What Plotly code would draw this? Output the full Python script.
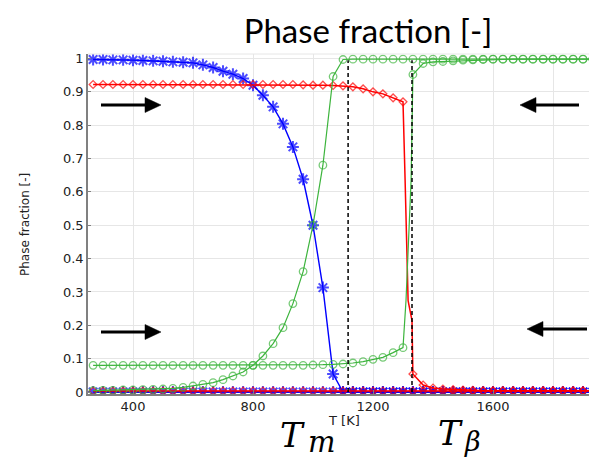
import plotly.graph_objects as go

# ---------------- data ----------------
T_GRID = [267, 300, 333, 367, 400, 433, 467, 500, 533, 567, 600, 633, 667, 700,
          733, 767, 800, 833, 867, 900, 933, 967, 1000, 1033, 1067, 1100, 1133,
          1167, 1200, 1233, 1267, 1300, 1333, 1367, 1400, 1433, 1467, 1500, 1533,
          1567, 1600, 1633, 1667, 1700, 1733, 1767, 1800, 1833, 1867, 1900, 1933]

# cooling: martensite (blue), beta (green), alpha (red)
COOL_MART = [0.997, 0.997, 0.996, 0.996, 0.995, 0.994, 0.993, 0.992, 0.990, 0.989,
             0.987, 0.981, 0.973, 0.962, 0.953, 0.940, 0.920, 0.890, 0.855, 0.804,
             0.735, 0.638, 0.500, 0.313, 0.054, 0.000, 0.000, 0.000, 0.000, 0.000,
             0.000, 0.000, 0.000, 0.000, 0.000, 0.000, 0.000, 0.000, 0.000, 0.000,
             0.000, 0.000, 0.000, 0.000, 0.000, 0.000, 0.000, 0.000, 0.000, 0.000,
             0.000]
COOL_BETA = [0.004, 0.005, 0.005, 0.006, 0.006, 0.007, 0.008, 0.009, 0.011, 0.014,
             0.018, 0.023, 0.028, 0.037, 0.048, 0.060, 0.080, 0.108, 0.145, 0.193,
             0.265, 0.361, 0.500, 0.680, 0.946, 0.997, 0.998, 0.998, 0.998, 0.998,
             0.998, 0.998, 0.998, 0.998, 0.998, 0.998, 0.998, 0.998, 0.998, 0.998,
             0.998, 0.998, 0.998, 0.998, 0.998, 0.998, 0.998, 0.998, 0.998, 0.998,
             0.998]
COOL_ALPHA = [0.003, 0.003, 0.003, 0.003, 0.003, 0.003, 0.003, 0.003, 0.003, 0.003,
              0.003, 0.003, 0.003, 0.003, 0.003, 0.003, 0.003, 0.003, 0.003, 0.003,
              0.003, 0.003, 0.003, 0.003, 0.003, 0.003, 0.003, 0.003, 0.003, 0.003,
              0.003, 0.003, 0.003, 0.003, 0.003, 0.003, 0.003, 0.003, 0.003, 0.003,
              0.003, 0.003, 0.003, 0.003, 0.003, 0.003, 0.003, 0.003, 0.003, 0.003,
              0.003]
# heating: martensite stays zero
HEAT_MART = [0.0, 0.0, 0.0, 0.0, 0.0, 0.0, 0.0, 0.0, 0.0, 0.0, 0.0, 0.0, 0.0, 0.0,
             0.0, 0.0, 0.0, 0.0, 0.0, 0.0, 0.0, 0.0, 0.0, 0.0, 0.0, 0.0, 0.0, 0.0,
             0.0, 0.0, 0.0, 0.0, 0.0, 0.0, 0.0, 0.0, 0.0, 0.0, 0.0, 0.0, 0.0, 0.0,
             0.0, 0.0, 0.0, 0.0, 0.0, 0.0, 0.0, 0.0, 0.0]

# heating alpha (red) including the unmarked points of the steep drop
T_HEAT_ALPHA = [267, 300, 333, 367, 400, 433, 467, 500, 533, 567, 600, 633, 667, 700,
                733, 767, 800, 833, 867, 900, 933, 967, 1000, 1033, 1067, 1100, 1133,
                1167, 1200, 1233, 1267, 1300, 1307, 1317, 1330, 1333, 1367, 1400, 1433,
                1467, 1500, 1533, 1567, 1600, 1633, 1667, 1700, 1733, 1767, 1800, 1833,
                1867, 1900, 1933]
HEAT_ALPHA = [0.922, 0.922, 0.922, 0.922, 0.922, 0.922, 0.922, 0.922, 0.922, 0.922,
              0.922, 0.922, 0.922, 0.922, 0.922, 0.922, 0.922, 0.922, 0.922, 0.922,
              0.922, 0.921, 0.920, 0.920, 0.919, 0.918, 0.915, 0.909, 0.900, 0.894,
              0.882, 0.870, 0.636, 0.274, 0.214, 0.054, 0.021, 0.012, 0.009, 0.007,
              0.006, 0.005, 0.004, 0.004, 0.004, 0.004, 0.004, 0.004, 0.004, 0.004,
              0.004, 0.004, 0.004, 0.004]
# heating beta (green) including the unmarked points of the steep rise
T_HEAT_BETA = [267, 300, 333, 367, 400, 433, 467, 500, 533, 567, 600, 633, 667, 700,
               733, 767, 800, 833, 867, 900, 933, 967, 1000, 1033, 1067, 1100, 1133,
               1167, 1200, 1233, 1267, 1300, 1310, 1327, 1333, 1367, 1400, 1433, 1467,
               1500, 1533, 1567, 1600, 1633, 1667, 1700, 1733, 1767, 1800, 1833, 1867,
               1900, 1933]
HEAT_BETA = [0.080, 0.080, 0.080, 0.080, 0.080, 0.080, 0.080, 0.080, 0.080, 0.080,
             0.080, 0.080, 0.080, 0.080, 0.080, 0.080, 0.080, 0.080, 0.080, 0.080,
             0.080, 0.080, 0.081, 0.082, 0.083, 0.084, 0.087, 0.091, 0.098, 0.104,
             0.118, 0.133, 0.274, 0.636, 0.952, 0.985, 0.990, 0.991, 0.993, 0.995,
             0.996, 0.997, 0.998, 0.998, 0.998, 0.998, 0.998, 0.998, 0.998, 0.998,
             0.998, 0.998, 0.998]
UNMARKED_T = [1307, 1317, 1330, 1310, 1327]   # points of the jumps drawn without a marker

T_M_LINE = 1117        # dashed marker of T_m
T_BETA_LINE = 1330     # dashed marker of T_beta
X_TICKS = [400, 800, 1200, 1600]
X_MINOR = [600, 1000, 1400, 1800]
Y_TICKS = [0, 0.1, 0.2, 0.3, 0.4, 0.5, 0.6, 0.7, 0.8, 0.9, 1]
Y_TICKTEXT = ['0', '0.1', '0.2', '0.3', '0.4', '0.5', '0.6', '0.7', '0.8', '0.9', '1']

# ---------------- styling ----------------
W, H = 589, 461
PL, PR, PT, PB = 88, 589, 54, 394   # plot area in pixels

def pxx(x):
    return (x - PL) / (PR - PL)

def pyy(y):
    return (PB - y) / (PB - PT)

BLUE = '#0000ff'
RED = '#ff0000'
GREEN = '#3cb43c'
GRID = '#e6e6e6'
TICKFONT = dict(family='DejaVu Sans', size=13, color='#222222')

fig = go.Figure()

def add(x, y, color, symbol, size, lw, mlw):
    sizes = [0 if t in UNMARKED_T else size for t in x]
    fig.add_trace(go.Scatter(
        x=x, y=y, mode='lines+markers',
        line=dict(color=color, width=lw),
        marker=dict(symbol=symbol, size=sizes, color=color,
                    line=dict(color=color, width=mlw)),
        showlegend=False, hoverinfo='skip'))

add(T_GRID, HEAT_MART, BLUE, 'asterisk-open', 10, 1.4, 2.0)
add(T_GRID, COOL_MART, BLUE, 'asterisk-open', 10, 1.4, 2.0)
add(T_GRID, COOL_ALPHA, RED, 'diamond-open', 6, 1.5, 1.3)
add(T_HEAT_ALPHA, HEAT_ALPHA, RED, 'diamond-open', 6, 1.5, 1.3)
add(T_GRID, COOL_BETA, GREEN, 'circle-open', 7.5, 1.2, 1.3)
add(T_HEAT_BETA, HEAT_BETA, GREEN, 'circle-open', 7.5, 1.2, 1.3)

shapes = [
    dict(type='line', xref='x', yref='y', x0=T_M_LINE, x1=T_M_LINE, y0=0, y1=0.995,
         line=dict(color='black', width=1.5, dash='4px,3px')),
    dict(type='line', xref='x', yref='y', x0=T_BETA_LINE, x1=T_BETA_LINE, y0=0, y1=0.995,
         line=dict(color='black', width=1.5, dash='4px,3px')),
    dict(type='line', xref='paper', yref='paper', x0=0, x1=1, y0=1, y1=1,
         line=dict(color=GRID, width=1)),
]

# direction arrows (tip, tail) in pixels, drawn as shaft + triangular head
HEAD_LEN, HEAD_HALF = 16, 7.5
for tip, tail in [((161, 105), (101, 105)), ((161, 332), (101, 332)),
                  ((520, 105), (579, 105)), ((527, 329), (587, 329))]:
    d = 1 if tip[0] > tail[0] else -1
    base_x = tip[0] - d * HEAD_LEN
    shapes.append(dict(type='line', xref='paper', yref='paper',
                       x0=pxx(tail[0]), y0=pyy(tail[1]),
                       x1=pxx(base_x + d * 2), y1=pyy(tip[1]),
                       line=dict(color='black', width=3)))
    path = 'M {} {} L {} {} L {} {} Z'.format(
        pxx(tip[0]), pyy(tip[1]),
        pxx(base_x), pyy(tip[1] - HEAD_HALF),
        pxx(base_x), pyy(tip[1] + HEAD_HALF))
    shapes.append(dict(type='path', xref='paper', yref='paper', path=path,
                       fillcolor='black', line=dict(color='black', width=0.5)))

SERIF = 'DejaVu Serif'

def label(x, y, text, size, anchor='left'):
    return dict(xref='paper', yref='paper', x=pxx(x), y=pyy(y), text=text,
                showarrow=False, font=dict(family=SERIF, size=size, color='black'),
                xanchor=anchor, yanchor='middle')

annotations = [
    dict(xref='paper', yref='paper', x=pxx(344), y=pyy(420), text='T [K]',
         showarrow=False, font=dict(family='DejaVu Sans', size=13, color='#222222'),
         xanchor='center', yanchor='middle'),
    dict(xref='paper', yref='paper', x=pxx(25), y=pyy(225), text='Phase fraction [-]',
         textangle=-90, showarrow=False,
         font=dict(family='DejaVu Sans', size=12, color='#222222'),
         xanchor='center', yanchor='middle'),
    label(307, 435, '<i>T</i>', 34, 'right'),
    label(306, 442, '<i>m</i>', 29, 'left'),
    label(465, 433, '<i>T</i>', 34, 'right'),
    label(462, 441, '<i>β</i>', 27, 'left'),
]

fig.update_layout(
    width=W, height=H,
    margin=dict(l=PL, r=W - PR, t=PT, b=H - PB, pad=0),
    paper_bgcolor='white', plot_bgcolor='white',
    title=dict(text='Phase fraction [-]', x=368 / W, xanchor='center',
               xref='container',
               y=1 - 31 / H, yref='container', yanchor='middle',
               font=dict(family='Lato', size=33, color='black')),
    shapes=shapes, annotations=annotations,
    xaxis=dict(range=[250, 1920], tickvals=X_TICKS, showgrid=True, gridcolor=GRID,
               gridwidth=1, zeroline=False, showline=True, linecolor='#808080',
               linewidth=1.5, ticks='inside', ticklen=4, tickcolor='#808080',
               tickfont=TICKFONT,
               minor=dict(tickvals=X_MINOR, showgrid=True, gridcolor=GRID, gridwidth=1)),
    yaxis=dict(range=[-0.006, 1.0135], tickvals=Y_TICKS, ticktext=Y_TICKTEXT,
               showgrid=True, gridcolor=GRID, gridwidth=1, zeroline=False,
               showline=True, linecolor='#808080', linewidth=1.5, ticks='inside',
               ticklen=3, tickcolor='#808080', tickfont=TICKFONT),
)

fig.write_html('out.html')
